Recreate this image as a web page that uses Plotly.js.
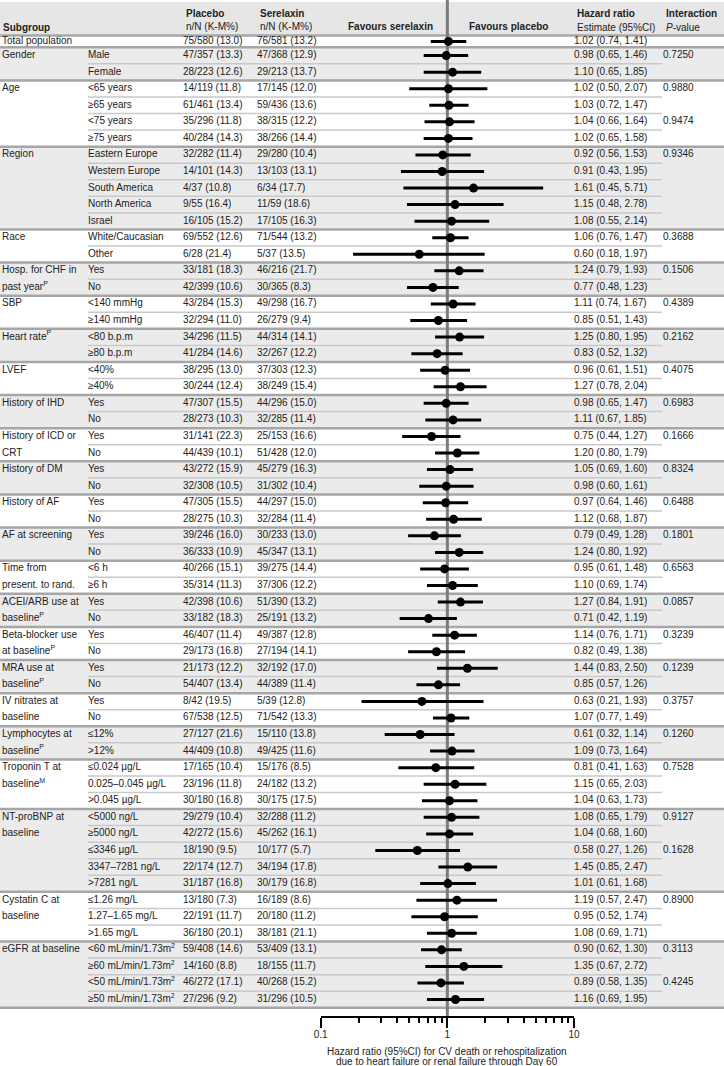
<!DOCTYPE html>
<html>
<head>
<meta charset="utf-8">
<script src="https://cdn.plot.ly/plotly-3.0.1.min.js"></script>
<style>
  html, body { margin: 0; padding: 0; background: #fff; }
  #chart { width: 724px; height: 1066px; }
</style>
</head>
<body>
<div id="chart"></div>
<script>
// Subgroup forest plot: serelaxin vs placebo, CV death or rehospitalization through Day 60.

const groupLabels = [
    ['Total population'], ['Gender'], ['Age'], ['Region'], ['Race'],
    ['Hosp. for CHF in', 'past year<sup>P</sup>'], ['SBP'], ['Heart rate<sup>P</sup>'], ['LVEF'],
    ['History of IHD'], ['History of ICD or', 'CRT'], ['History of DM'], ['History of AF'],
    ['AF at screening'], ['Time from', 'present. to rand.'], ['ACEI/ARB use at', 'baseline<sup>P</sup>'],
    ['Beta-blocker use', 'at baseline<sup>P</sup>'], ['MRA use at', 'baseline<sup>P</sup>'],
    ['IV nitrates at', 'baseline'], ['Lymphocytes at', 'baseline<sup>P</sup>'],
    ['Troponin T at', 'baseline<sup>M</sup>'], ['NT-proBNP at', 'baseline'],
    ['Cystatin C at', 'baseline'], ['eGFR at baseline'],
];
const groupSizes = [1, 2, 4, 5, 2, 2, 2, 2, 2, 2, 2, 2, 2, 2, 2, 2, 2, 2, 2, 2, 3, 5, 3, 4];

const subgroups = [
    '', 'Male', 'Female', '<65 years', '≥65 years', '<75 years', '≥75 years',
    'Eastern Europe', 'Western Europe', 'South America', 'North America', 'Israel',
    'White/Caucasian', 'Other', 'Yes', 'No', '<140 mmHg', '≥140 mmHg', '<80 b.p.m', '≥80 b.p.m',
    '<40%', '≥40%', 'Yes', 'No', 'Yes', 'No', 'Yes', 'No', 'Yes', 'No', 'Yes', 'No',
    '<6 h', '≥6 h', 'Yes', 'No', 'Yes', 'No', 'Yes', 'No', 'Yes', 'No', '≤12%', '>12%',
    '≤0.024 µg/L', '0.025–0.045 µg/L', '>0.045 µg/L',
    '<5000 ng/L', '≥5000 ng/L', '≤3346 µg/L', '3347–7281 ng/L', '>7281 ng/L',
    '≤1.26 mg/L', '1.27–1.65 mg/L', '>1.65 mg/L',
    '<60 mL/min/1.73m<sup>2</sup>', '≥60 mL/min/1.73m<sup>2</sup>',
    '<50 mL/min/1.73m<sup>2</sup>', '≥50 mL/min/1.73m<sup>2</sup>',
];

const placebo = [
    '75/580 (13.0)', '47/357 (13.3)', '28/223 (12.6)', '14/119 (11.8)', '61/461 (13.4)',
    '35/296 (11.8)', '40/284 (14.3)', '32/282 (11.4)', '14/101 (14.3)', '4/37 (10.8)',
    '9/55 (16.4)', '16/105 (15.2)', '69/552 (12.6)', '6/28 (21.4)', '33/181 (18.3)',
    '42/399 (10.6)', '43/284 (15.3)', '32/294 (11.0)', '34/296 (11.5)', '41/284 (14.6)',
    '38/295 (13.0)', '30/244 (12.4)', '47/307 (15.5)', '28/273 (10.3)', '31/141 (22.3)',
    '44/439 (10.1)', '43/272 (15.9)', '32/308 (10.5)', '47/305 (15.5)', '28/275 (10.3)',
    '39/246 (16.0)', '36/333 (10.9)', '40/266 (15.1)', '35/314 (11.3)', '42/398 (10.6)',
    '33/182 (18.3)', '46/407 (11.4)', '29/173 (16.8)', '21/173 (12.2)', '54/407 (13.4)',
    '8/42 (19.5)', '67/538 (12.5)', '27/127 (21.6)', '44/409 (10.8)', '17/165 (10.4)',
    '23/196 (11.8)', '30/180 (16.8)', '29/279 (10.4)', '42/272 (15.6)', '18/190 (9.5)',
    '22/174 (12.7)', '31/187 (16.8)', '13/180 (7.3)', '22/191 (11.7)', '36/180 (20.1)',
    '59/408 (14.6)', '14/160 (8.8)', '46/272 (17.1)', '27/296 (9.2)',
];

const serelaxin = [
    '76/581 (13.2)', '47/368 (12.9)', '29/213 (13.7)', '17/145 (12.0)', '59/436 (13.6)',
    '38/315 (12.2)', '38/266 (14.4)', '29/280 (10.4)', '13/103 (13.1)', '6/34 (17.7)',
    '11/59 (18.6)', '17/105 (16.3)', '71/544 (13.2)', '5/37 (13.5)', '46/216 (21.7)',
    '30/365 (8.3)', '49/298 (16.7)', '26/279 (9.4)', '44/314 (14.1)', '32/267 (12.2)',
    '37/303 (12.3)', '38/249 (15.4)', '44/296 (15.0)', '32/285 (11.4)', '25/153 (16.6)',
    '51/428 (12.0)', '45/279 (16.3)', '31/302 (10.4)', '44/297 (15.0)', '32/284 (11.4)',
    '30/233 (13.0)', '45/347 (13.1)', '39/275 (14.4)', '37/306 (12.2)', '51/390 (13.2)',
    '25/191 (13.2)', '49/387 (12.8)', '27/194 (14.1)', '32/192 (17.0)', '44/389 (11.4)',
    '5/39 (12.8)', '71/542 (13.3)', '15/110 (13.8)', '49/425 (11.6)', '15/176 (8.5)',
    '24/182 (13.2)', '30/175 (17.5)', '32/288 (11.2)', '45/262 (16.1)', '10/177 (5.7)',
    '34/194 (17.8)', '30/179 (16.8)', '16/189 (8.6)', '20/180 (11.2)', '38/181 (21.1)',
    '53/409 (13.1)', '18/155 (11.7)', '40/268 (15.2)', '31/296 (10.5)',
];

const hrEst = [1.02, 0.98, 1.10, 1.02, 1.03, 1.04, 1.02, 0.92, 0.91, 1.61, 1.15, 1.08, 1.06, 0.60,
    1.24, 0.77, 1.11, 0.85, 1.25, 0.83, 0.96, 1.27, 0.98, 1.11, 0.75, 1.20, 1.05, 0.98, 0.97, 1.12,
    0.79, 1.24, 0.95, 1.10, 1.27, 0.71, 1.14, 0.82, 1.44, 0.85, 0.63, 1.07, 0.61, 1.09, 0.81, 1.15,
    1.04, 1.08, 1.04, 0.58, 1.45, 1.01, 1.19, 0.95, 1.08, 0.90, 1.35, 0.89, 1.16];
const hrLo = [0.74, 0.65, 0.65, 0.50, 0.72, 0.66, 0.65, 0.56, 0.43, 0.45, 0.48, 0.55, 0.76, 0.18,
    0.79, 0.48, 0.74, 0.51, 0.80, 0.52, 0.61, 0.78, 0.65, 0.67, 0.44, 0.80, 0.69, 0.60, 0.64, 0.68,
    0.49, 0.80, 0.61, 0.69, 0.84, 0.42, 0.76, 0.49, 0.83, 0.57, 0.21, 0.77, 0.32, 0.73, 0.41, 0.65,
    0.63, 0.65, 0.68, 0.27, 0.85, 0.61, 0.57, 0.52, 0.69, 0.62, 0.67, 0.58, 0.69];
const hrHi = [1.41, 1.46, 1.85, 2.07, 1.47, 1.64, 1.58, 1.53, 1.95, 5.71, 2.78, 2.14, 1.47, 1.97,
    1.93, 1.23, 1.67, 1.43, 1.95, 1.32, 1.51, 2.04, 1.47, 1.85, 1.27, 1.79, 1.60, 1.61, 1.46, 1.87,
    1.28, 1.92, 1.48, 1.74, 1.91, 1.19, 1.71, 1.38, 2.50, 1.26, 1.93, 1.49, 1.14, 1.64, 1.63, 2.03,
    1.73, 1.79, 1.60, 1.26, 2.47, 1.68, 2.47, 1.74, 1.71, 1.30, 2.72, 1.35, 1.95];

const pInteraction = [
    '', '0.7250', '', '0.9880', '', '0.9474', '', '0.9346', '', '', '', '', '0.3688', '',
    '0.1506', '', '0.4389', '', '0.2162', '', '0.4075', '', '0.6983', '', '0.1666', '',
    '0.8324', '', '0.6488', '', '0.1801', '', '0.6563', '', '0.0857', '', '0.3239', '',
    '0.1239', '', '0.3757', '', '0.1260', '', '0.7528', '', '', '0.9127', '', '0.1628', '', '',
    '0.8900', '', '', '0.3113', '', '0.4245', '',
];

const tickVals = [0.1, 1, 10];
const tickText = ['0.1', '1', '10'];
const minorVals = [0.2, 0.3, 0.4, 0.5, 0.6, 0.7, 0.8, 0.9, 2, 3, 4, 5, 6, 7, 8, 9];
const axisTitle = ['Hazard ratio (95%CI) for CV death or rehospitalization',
                   'due to heart failure or renal failure through Day 60'];

// ---- page geometry (pixels) ----
const W = 724, H = 1066;
const ROW_H = 16.56, FIRST_EDGE = 47.3, TOTAL_TOP = 35.5, HEADER_TOP = 2;
const AXIS_PX = 1017, LOG_X0 = 320.7, LOG_X1 = 574;
const COL = { group: 2, sub: 88, plac: 183, sere: 257, hr: 574, p: 663 };
const INNER_X0 = 88, INNER_X1 = 662;
const FONT = '"Liberation Sans", Arial, sans-serif';
const INK = '#222';
const BAND = '#ebebeb', GROUP_LINE = '#a6a6a6', INNER_LINE = '#c9c9c9';

const pxToY = px => 0.5 + (px - FIRST_EDGE) / ROW_H;
const rowY = subgroups.map((_, i) => i === 0 ? pxToY((TOTAL_TOP + FIRST_EDGE) / 2) : i);

// group start rows
const groupStart = [];
groupSizes.reduce((acc, n) => { groupStart.push(acc); return acc + n; }, 0);

// ---- shapes: header band, group bands, separators ----
const shapes = [];
shapes.push({ type: 'rect', xref: 'paper', yref: 'y', x0: 0, x1: 1,
    y0: pxToY(HEADER_TOP), y1: pxToY(TOTAL_TOP), fillcolor: '#e6e6e6', line: { width: 0 }, layer: 'below' });
groupSizes.forEach((n, g) => {
    if (g === 0) return;
    const s = groupStart[g];
    if (g % 2 === 1) {
        shapes.push({ type: 'rect', xref: 'paper', yref: 'y', x0: 0, x1: 1,
            y0: s - 0.5, y1: s + n - 0.5, fillcolor: BAND, line: { width: 0 }, layer: 'below' });
    }
    for (let k = 1; k < n; k++) {
        shapes.push({ type: 'line', xref: 'paper', yref: 'y', x0: INNER_X0 / W, x1: INNER_X1 / W,
            y0: s + k - 0.5, y1: s + k - 0.5, line: { color: INNER_LINE, width: 1.5 }, layer: 'below' });
    }
});
const groupEdges = [pxToY(TOTAL_TOP)].concat(groupStart.slice(1).map(s => s - 0.5), [subgroups.length - 0.5]);
groupEdges.forEach(y => shapes.push({ type: 'line', xref: 'paper', yref: 'y', x0: 0, x1: 1,
    y0: y, y1: y, line: { color: GROUP_LINE, width: 2.5 }, layer: 'below' }));

// ---- table text ----
function textTrace(x, ys, texts) {
    const keep = texts.map((t, i) => i).filter(i => texts[i] !== '');
    return {
        type: 'scatter', mode: 'text', xaxis: 'x2', yaxis: 'y',
        x: keep.map(() => x), y: keep.map(i => ys[i]), text: keep.map(i => texts[i]),
        textposition: 'middle right',
        textfont: { family: FONT, size: 10, color: INK },
        hoverinfo: 'skip', cliponaxis: false,
    };
}

const glY = [], glText = [];
groupLabels.forEach((lines, g) => lines.forEach((t, j) => {
    glY.push(rowY[groupStart[g] + j]); glText.push(t);
}));

const hrText = hrEst.map((v, i) => `${v.toFixed(2)} (${hrLo[i].toFixed(2)}, ${hrHi[i].toFixed(2)})`);

// ---- forest ----
const ciX = [], ciY = [];
hrEst.forEach((_, i) => { ciX.push(hrLo[i], hrHi[i], null); ciY.push(rowY[i], rowY[i], null); });

const traces = [
    { type: 'scatter', mode: 'lines', x: [1, 1], y: [pxToY(0), pxToY(AXIS_PX)],
      line: { color: '#7b7b7b', width: 3 }, hoverinfo: 'skip', xaxis: 'x', yaxis: 'y' },
    { type: 'scatter', mode: 'lines', x: ciX, y: ciY, connectgaps: false,
      line: { color: '#000', width: 3 }, hoverinfo: 'skip', xaxis: 'x', yaxis: 'y' },
    { type: 'scatter', mode: 'markers', x: hrEst, y: rowY, text: hrText,
      marker: { color: '#000', size: 9 }, hovertemplate: '%{text}<extra></extra>', xaxis: 'x', yaxis: 'y' },
    textTrace(COL.group, glY, glText),
    textTrace(COL.sub, rowY, subgroups),
    textTrace(COL.plac, rowY, placebo),
    textTrace(COL.sere, rowY, serelaxin),
    textTrace(COL.hr, rowY, hrText),
    textTrace(COL.p, rowY, pInteraction),
];

// ---- header ----
function head(x, py, text, opts) {
    return Object.assign({ xref: 'paper', yref: 'paper', x: x / W, y: 1 - py / H,
        xanchor: 'left', yanchor: 'middle', showarrow: false, text: text,
        font: { family: FONT, size: 10, color: INK } }, opts || {});
}
const annotations = [
    head(1, 28, '<b>Subgroup</b>'),
    head(184, 13, '<b>Placebo</b>'), head(184, 26.5, 'n/N (K-M%)'),
    head(258, 13, '<b>Serelaxin</b>'), head(258, 26.5, 'n/N (K-M%)'),
    head(390, 26.5, '<b>Favours serelaxin</b>', { xanchor: 'center' }),
    head(467, 26.5, '<b>Favours placebo</b>'),
    head(575, 13, '<b>Hazard ratio</b>'), head(575, 27, 'Estimate (95%CI)'),
    head(664, 13, '<b>Interaction</b>'), head(664, 27, '<i>P</i>-value'),
].concat(axisTitle.map((t, k) => ({
    xref: 'x', yref: 'paper', x: 0, y: 1 - (1051 + k * 10.8) / H,
    xanchor: 'center', yanchor: 'middle', showarrow: false, text: t,
    font: { family: FONT, size: 10, color: INK },
})));

const layout = {
    width: W, height: H,
    margin: { l: 0, r: 0, t: 0, b: 0, pad: 0 },
    paper_bgcolor: '#fff', plot_bgcolor: 'rgba(0,0,0,0)',
    showlegend: false,
    font: { family: FONT, size: 10, color: INK },
    xaxis: {
        type: 'log', range: [-1, 1], domain: [LOG_X0 / W, LOG_X1 / W],
        anchor: 'free', position: 1 - AXIS_PX / H, automargin: false,
        showline: true, linecolor: '#000', linewidth: 2,
        ticks: 'outside', ticklen: 10, tickwidth: 2, tickcolor: '#000',
        tickmode: 'array', tickvals: tickVals, ticktext: tickText,
        tickfont: { family: FONT, size: 10, color: INK }, ticklabelstandoff: -2,
        minor: { tickmode: 'array', tickvals: minorVals, ticks: 'outside', ticklen: 5,
                 tickwidth: 2, tickcolor: '#000', showgrid: false },
        showgrid: false, zeroline: false, fixedrange: true,
    },
    xaxis2: { range: [0, W], domain: [0, 1], anchor: 'y', visible: false, fixedrange: true },
    yaxis: {
        range: [pxToY(H), pxToY(0)], domain: [0, 1], visible: false,
        showgrid: false, zeroline: false, fixedrange: true, automargin: false,
    },
    shapes: shapes,
    annotations: annotations,
};

Plotly.newPlot('chart', traces, layout, { displayModeBar: false, staticPlot: true });
</script>
</body>
</html>
